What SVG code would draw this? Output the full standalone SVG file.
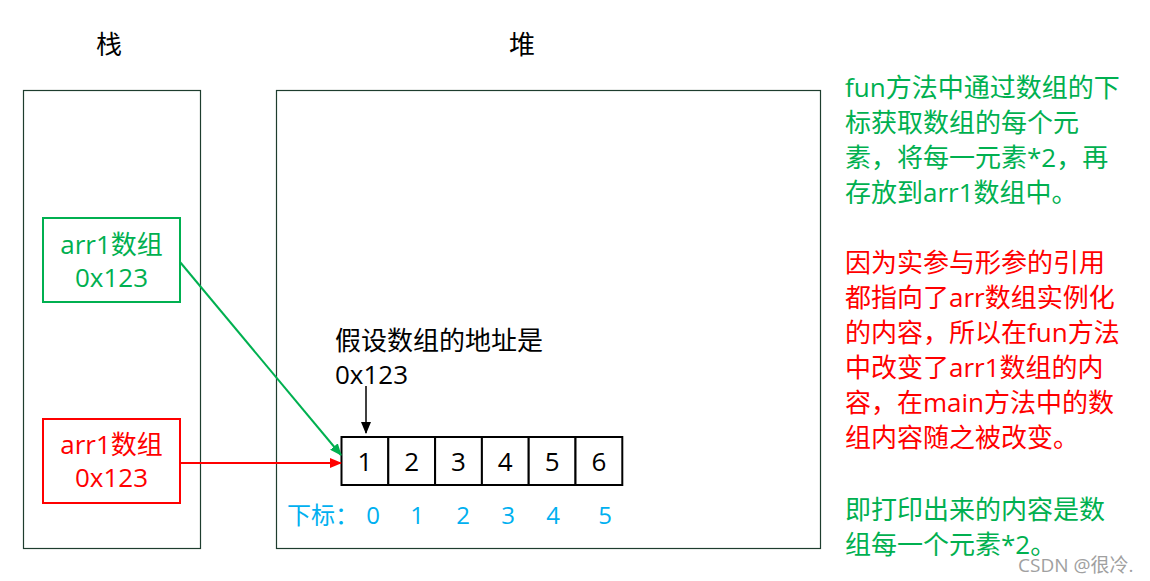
<svg xmlns="http://www.w3.org/2000/svg" width="1150" height="581" viewBox="0 0 1150 581">
<defs>
<style>
text{font-family:"Open Sans","Noto Sans CJK SC",sans-serif;}
.t26{font-size:26px;}
.blk{fill:#000;}
.grn{fill:#00B050;}
.red{fill:#FF0000;}
.blu{fill:#00B0F0;font-size:24px;}
.area{fill:#fff;stroke:#1E3D2E;stroke-width:1.2;}
.cell{fill:#fff;stroke:#000;stroke-width:2;}
</style>
<marker id="ag" markerWidth="12" markerHeight="10" refX="11" refY="5" orient="auto" markerUnits="userSpaceOnUse"><path d="M0,0 L12,5 L0,10 z" fill="#00B050"/></marker>
<marker id="ar" markerWidth="12" markerHeight="10" refX="11" refY="5" orient="auto" markerUnits="userSpaceOnUse"><path d="M0,0 L12,5 L0,10 z" fill="#FF0000"/></marker>
<marker id="ab" markerWidth="12" markerHeight="10" refX="11" refY="5" orient="auto" markerUnits="userSpaceOnUse"><path d="M0,0 L12,5 L0,10 z" fill="#000"/></marker>
</defs>
<rect width="1150" height="581" fill="#fff"/>

<g id="stack">
<text x="109" y="54" class="t26 blk" text-anchor="middle">栈</text>
<rect class="area" x="23.5" y="90.5" width="177" height="458"/>
</g>
<g id="heap">
<text x="522" y="54" class="t26 blk" text-anchor="middle">堆</text>
<rect class="area" x="276.5" y="90.5" width="544" height="458"/>
</g>

<g id="arr1-green">
<rect x="43" y="218" width="137" height="84" fill="#fff" stroke="#00B050" stroke-width="2"/>
<text x="111.5" y="254" class="t26 grn" text-anchor="middle">arr1数组</text>
<text x="111.5" y="287" class="t26 grn" text-anchor="middle">0x123</text>
</g>
<g id="arr1-red">
<rect x="43" y="419" width="137" height="84" fill="#fff" stroke="#FF0000" stroke-width="2"/>
<text x="111.5" y="454" class="t26 red" text-anchor="middle">arr1数组</text>
<text x="111.5" y="487" class="t26 red" text-anchor="middle">0x123</text>
</g>

<g id="address-label">
<text x="335" y="350" class="t26 blk">假设数组的地址是</text>
<text x="335" y="384" class="t26 blk">0x123</text>
</g>

<g id="array">
<rect class="cell" x="341.5" y="437" width="46.8" height="48"/>
<rect class="cell" x="388.3" y="437" width="46.8" height="48"/>
<rect class="cell" x="435.1" y="437" width="46.8" height="48"/>
<rect class="cell" x="481.9" y="437" width="46.8" height="48"/>
<rect class="cell" x="528.7" y="437" width="46.8" height="48"/>
<rect class="cell" x="575.5" y="437" width="46.8" height="48"/>
<g class="t26 blk" text-anchor="middle">
<text x="365" y="471">1</text>
<text x="411.7" y="471">2</text>
<text x="458.5" y="471">3</text>
<text x="505.3" y="471">4</text>
<text x="552.1" y="471">5</text>
<text x="598.9" y="471">6</text>
</g>
</g>

<g id="indices">
<text x="287" y="524" class="blu">下标：</text>
<g class="blu" text-anchor="middle">
<text x="373" y="524">0</text>
<text x="417" y="524">1</text>
<text x="463" y="524">2</text>
<text x="508" y="524">3</text>
<text x="553" y="524">4</text>
<text x="605" y="524">5</text>
</g>
</g>

<g id="connectors" fill="none" stroke-width="2">
<line x1="180" y1="262" x2="341" y2="455" stroke="#00B050" marker-end="url(#ag)"/>
<line x1="180" y1="463" x2="341" y2="463" stroke="#FF0000" marker-end="url(#ar)"/>
<line x1="366" y1="386" x2="366" y2="433" stroke="#000" stroke-width="1.5" marker-end="url(#ab)"/>
</g>

<g id="notes" class="t26">
<g class="grn">
<text x="845" y="97">fun方法中通过数组的下</text>
<text x="845" y="132">标获取数组的每个元</text>
<text x="845" y="167">素，将每一元素*2，再</text>
<text x="845" y="202">存放到arr1数组中。</text>
</g>
<g class="red">
<text x="845" y="272">因为实参与形参的引用</text>
<text x="845" y="307">都指向了arr数组实例化</text>
<text x="845" y="342">的内容，所以在fun方法</text>
<text x="845" y="377">中改变了arr1数组的内</text>
<text x="845" y="412">容，在main方法中的数</text>
<text x="845" y="447">组内容随之被改变。</text>
</g>
<g class="grn">
<text x="845" y="519">即打印出来的内容是数</text>
<text x="845" y="554">组每一个元素*2。</text>
</g>
</g>

<text x="1018" y="572" font-size="19" fill="#A0A0A0">CSDN @很冷.</text>
</svg>
